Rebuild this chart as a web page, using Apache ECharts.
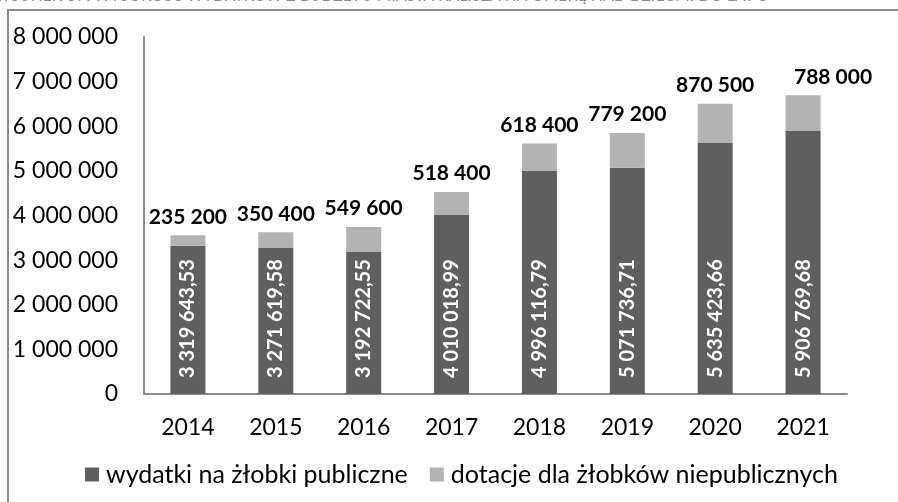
<!DOCTYPE html>
<html>
<head>
<meta charset="utf-8">
<script src="https://cdn.jsdelivr.net/npm/echarts@6/dist/echarts.min.js"></script>
<style>
  html, body { margin: 0; padding: 0; background: #fff; }
  #chart { width: 898px; height: 502px; }
</style>
</head>
<body>
<div id="chart"></div>
<script>
// chart data
const years = ["2014", "2015", "2016", "2017", "2018", "2019", "2020", "2021"];
const publicSpending = [3319643.53, 3271619.58, 3192722.55, 4010018.99, 4996116.79, 5071736.71, 5635423.66, 5906769.68];
const privateGrants = [235200, 350400, 549600, 518400, 618400, 779200, 870500, 788000];
const seriesNames = ["wydatki na żłobki publiczne", "dotacje dla żłobków niepublicznych"];
const titleText = "RYSUNEK 37. WYSOKOŚĆ WYDATKÓW Z BUDŻETU MIASTA KALISZA NA OPIEKĘ NAD DZIEĆMI DO LAT 3";

const FONT = "Lato";

// numbers with space as thousands separator, comma decimals
function fmt(v, decimals) {
  const parts = v.toFixed(decimals).split(".");
  const intPart = parts[0].replace(/\B(?=(\d{3})+(?!\d))/g, " ");
  return parts.length > 1 ? intPart + "," + parts[1] : intPart;
}

const chart = echarts.init(document.getElementById("chart"));

const option = {
  backgroundColor: "#fff",
  animation: false,
  textStyle: { fontFamily: FONT },
  graphic: [
    {
      type: "text",
      left: -8,
      top: -13,
      style: {
        text: titleText,
        fontFamily: FONT,
        fontSize: 17,
        fontStyle: "italic",
        fill: "#8a8a8a"
      }
    },
    {
      type: "rect",
      shape: { x: 8, y: 10, width: 1000, height: 600 },
      style: { fill: "none", stroke: "#8c8c8c", lineWidth: 2 }
    }
  ],
  grid: { left: 144, right: 51, top: 37, bottom: 108 },
  legend: {
    left: 85,
    top: 462,
    padding: 0,
    itemWidth: 14,
    itemHeight: 14,
    itemGap: 22,
    icon: "rect",
    textStyle: { fontFamily: FONT, fontSize: 25, color: "#000", padding: [0, 0, 0, 2] },
    data: seriesNames
  },
  xAxis: {
    type: "category",
    data: years,
    axisLine: { lineStyle: { color: "#8c8c8c", width: 2 } },
    axisTick: { show: false },
    axisLabel: { fontFamily: FONT, fontSize: 23, color: "#000", margin: 22 }
  },
  yAxis: {
    type: "value",
    min: 0,
    max: 8000000,
    interval: 1000000,
    axisLine: { show: true, lineStyle: { color: "#8c8c8c", width: 2 } },
    axisTick: { show: false },
    splitLine: { show: false },
    axisLabel: {
      fontFamily: FONT,
      fontSize: 23,
      color: "#000",
      margin: 26,
      formatter: v => fmt(v, 0)
    }
  },
  series: [
    {
      name: seriesNames[0],
      type: "bar",
      stack: "total",
      barWidth: 35,
      itemStyle: { color: "#5f5f5f" },
      label: {
        show: true,
        position: "insideBottom",
        rotate: 90,
        align: "left",
        verticalAlign: "middle",
        distance: 16,
        color: "#fff",
        fontFamily: FONT,
        fontWeight: "bold",
        fontSize: 20,
        formatter: p => fmt(p.value, 2)
      },
      data: publicSpending
    },
    {
      name: seriesNames[1],
      type: "bar",
      stack: "total",
      barWidth: 35,
      itemStyle: { color: "#b3b3b3" },
      label: {
        show: true,
        position: "top",
        distance: 8,
        color: "#000",
        fontFamily: FONT,
        fontWeight: "bold",
        fontSize: 21,
        formatter: p => fmt(p.value, 0)
      },
      data: privateGrants.map((v, i) => i === privateGrants.length - 1
        ? { value: v, label: { offset: [30, 0] } }
        : v)
    }
  ]
};

chart.setOption(option);
</script>
</body>
</html>
